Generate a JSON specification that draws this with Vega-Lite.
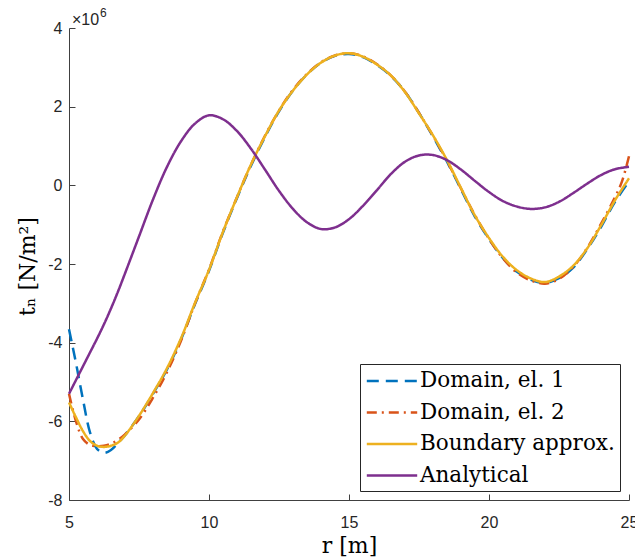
{
  "$schema": "https://vega.github.io/schema/vega-lite/v6.json",
  "width": 560,
  "height": 472,
  "autosize": "none",
  "padding": {"left": 69, "top": 28, "right": 6, "bottom": 58},
  "background": "white",
  "config": {
    "view": {"stroke": null},
    "axis": {
      "grid": false,
      "domainColor": "#404040",
      "tickColor": "#404040",
      "tickSize": -6,
      "labelFont": "Liberation Sans",
      "labelFontSize": 16,
      "labelColor": "#262626",
      "labelFlush": false,
      "labelOverlap": false,
      "titleFont": "DejaVu Serif",
      "titleFontWeight": "normal",
      "titleFontSize": 22,
      "titleColor": "#000000"
    }
  },
  "layer": [
    {
      "data": {
        "values": [
          {"series": "Domain, el. 1", "r": 5, "t": -3.66},
          {"series": "Domain, el. 1", "r": 5.1, "t": -4.0},
          {"series": "Domain, el. 1", "r": 5.25, "t": -4.52},
          {"series": "Domain, el. 1", "r": 5.5, "t": -5.45},
          {"series": "Domain, el. 1", "r": 5.75, "t": -6.28},
          {"series": "Domain, el. 1", "r": 6, "t": -6.7},
          {"series": "Domain, el. 1", "r": 6.25, "t": -6.8},
          {"series": "Domain, el. 1", "r": 6.5, "t": -6.73},
          {"series": "Domain, el. 1", "r": 6.75, "t": -6.55},
          {"series": "Domain, el. 1", "r": 7, "t": -6.35},
          {"series": "Domain, el. 1", "r": 7.5, "t": -5.87},
          {"series": "Domain, el. 1", "r": 8, "t": -5.3},
          {"series": "Domain, el. 1", "r": 8.5, "t": -4.68},
          {"series": "Domain, el. 1", "r": 9, "t": -3.92},
          {"series": "Domain, el. 1", "r": 9.5, "t": -3.02},
          {"series": "Domain, el. 1", "r": 10, "t": -2.17},
          {"series": "Domain, el. 1", "r": 10.5, "t": -1.2},
          {"series": "Domain, el. 1", "r": 11, "t": -0.32},
          {"series": "Domain, el. 1", "r": 11.5, "t": 0.5},
          {"series": "Domain, el. 1", "r": 12, "t": 1.23},
          {"series": "Domain, el. 1", "r": 12.5, "t": 1.88},
          {"series": "Domain, el. 1", "r": 13, "t": 2.41},
          {"series": "Domain, el. 1", "r": 13.5, "t": 2.82},
          {"series": "Domain, el. 1", "r": 14, "t": 3.12},
          {"series": "Domain, el. 1", "r": 14.5, "t": 3.29},
          {"series": "Domain, el. 1", "r": 15, "t": 3.34},
          {"series": "Domain, el. 1", "r": 15.5, "t": 3.26},
          {"series": "Domain, el. 1", "r": 16, "t": 3.06},
          {"series": "Domain, el. 1", "r": 16.5, "t": 2.78},
          {"series": "Domain, el. 1", "r": 17, "t": 2.38},
          {"series": "Domain, el. 1", "r": 17.5, "t": 1.84},
          {"series": "Domain, el. 1", "r": 18, "t": 1.24},
          {"series": "Domain, el. 1", "r": 18.5, "t": 0.6},
          {"series": "Domain, el. 1", "r": 19, "t": -0.1},
          {"series": "Domain, el. 1", "r": 19.5, "t": -0.8},
          {"series": "Domain, el. 1", "r": 20, "t": -1.37},
          {"series": "Domain, el. 1", "r": 20.5, "t": -1.85},
          {"series": "Domain, el. 1", "r": 21, "t": -2.2},
          {"series": "Domain, el. 1", "r": 21.5, "t": -2.4},
          {"series": "Domain, el. 1", "r": 22, "t": -2.48},
          {"series": "Domain, el. 1", "r": 22.5, "t": -2.36},
          {"series": "Domain, el. 1", "r": 23, "t": -2.1},
          {"series": "Domain, el. 1", "r": 23.5, "t": -1.63},
          {"series": "Domain, el. 1", "r": 24, "t": -1.06},
          {"series": "Domain, el. 1", "r": 24.5, "t": -0.42},
          {"series": "Domain, el. 1", "r": 25, "t": 0.1},

          {"series": "Domain, el. 2", "r": 5, "t": -5.3},
          {"series": "Domain, el. 2", "r": 5.25, "t": -6.0},
          {"series": "Domain, el. 2", "r": 5.5, "t": -6.45},
          {"series": "Domain, el. 2", "r": 5.75, "t": -6.6},
          {"series": "Domain, el. 2", "r": 6, "t": -6.63},
          {"series": "Domain, el. 2", "r": 6.25, "t": -6.62},
          {"series": "Domain, el. 2", "r": 6.5, "t": -6.57},
          {"series": "Domain, el. 2", "r": 6.75, "t": -6.47},
          {"series": "Domain, el. 2", "r": 7, "t": -6.33},
          {"series": "Domain, el. 2", "r": 7.5, "t": -5.95},
          {"series": "Domain, el. 2", "r": 8, "t": -5.4},
          {"series": "Domain, el. 2", "r": 8.5, "t": -4.75},
          {"series": "Domain, el. 2", "r": 9, "t": -3.95},
          {"series": "Domain, el. 2", "r": 9.5, "t": -3.0},
          {"series": "Domain, el. 2", "r": 10, "t": -2.14},
          {"series": "Domain, el. 2", "r": 10.5, "t": -1.17},
          {"series": "Domain, el. 2", "r": 11, "t": -0.3},
          {"series": "Domain, el. 2", "r": 11.5, "t": 0.53},
          {"series": "Domain, el. 2", "r": 12, "t": 1.26},
          {"series": "Domain, el. 2", "r": 12.5, "t": 1.9},
          {"series": "Domain, el. 2", "r": 13, "t": 2.43},
          {"series": "Domain, el. 2", "r": 13.5, "t": 2.83},
          {"series": "Domain, el. 2", "r": 14, "t": 3.13},
          {"series": "Domain, el. 2", "r": 14.5, "t": 3.3},
          {"series": "Domain, el. 2", "r": 15, "t": 3.36},
          {"series": "Domain, el. 2", "r": 15.5, "t": 3.28},
          {"series": "Domain, el. 2", "r": 16, "t": 3.08},
          {"series": "Domain, el. 2", "r": 16.5, "t": 2.79},
          {"series": "Domain, el. 2", "r": 17, "t": 2.38},
          {"series": "Domain, el. 2", "r": 17.5, "t": 1.84},
          {"series": "Domain, el. 2", "r": 18, "t": 1.26},
          {"series": "Domain, el. 2", "r": 18.5, "t": 0.62},
          {"series": "Domain, el. 2", "r": 19, "t": -0.08},
          {"series": "Domain, el. 2", "r": 19.5, "t": -0.76},
          {"series": "Domain, el. 2", "r": 20, "t": -1.36},
          {"series": "Domain, el. 2", "r": 20.5, "t": -1.86},
          {"series": "Domain, el. 2", "r": 21, "t": -2.22},
          {"series": "Domain, el. 2", "r": 21.5, "t": -2.42},
          {"series": "Domain, el. 2", "r": 22, "t": -2.5},
          {"series": "Domain, el. 2", "r": 22.5, "t": -2.38},
          {"series": "Domain, el. 2", "r": 23, "t": -2.08},
          {"series": "Domain, el. 2", "r": 23.5, "t": -1.6},
          {"series": "Domain, el. 2", "r": 24, "t": -0.98},
          {"series": "Domain, el. 2", "r": 24.5, "t": -0.3},
          {"series": "Domain, el. 2", "r": 24.75, "t": 0.1},
          {"series": "Domain, el. 2", "r": 25, "t": 0.74},

          {"series": "Boundary approx.", "r": 5, "t": -5.52},
          {"series": "Boundary approx.", "r": 5.25, "t": -5.9},
          {"series": "Boundary approx.", "r": 5.5, "t": -6.25},
          {"series": "Boundary approx.", "r": 5.75, "t": -6.5},
          {"series": "Boundary approx.", "r": 6, "t": -6.62},
          {"series": "Boundary approx.", "r": 6.25, "t": -6.65},
          {"series": "Boundary approx.", "r": 6.5, "t": -6.62},
          {"series": "Boundary approx.", "r": 6.75, "t": -6.54},
          {"series": "Boundary approx.", "r": 7, "t": -6.36},
          {"series": "Boundary approx.", "r": 7.5, "t": -5.86},
          {"series": "Boundary approx.", "r": 8, "t": -5.28},
          {"series": "Boundary approx.", "r": 8.5, "t": -4.65},
          {"series": "Boundary approx.", "r": 9, "t": -3.89},
          {"series": "Boundary approx.", "r": 9.5, "t": -2.99},
          {"series": "Boundary approx.", "r": 10, "t": -2.15},
          {"series": "Boundary approx.", "r": 10.5, "t": -1.18},
          {"series": "Boundary approx.", "r": 11, "t": -0.3},
          {"series": "Boundary approx.", "r": 11.5, "t": 0.53},
          {"series": "Boundary approx.", "r": 12, "t": 1.25},
          {"series": "Boundary approx.", "r": 12.5, "t": 1.9},
          {"series": "Boundary approx.", "r": 13, "t": 2.41},
          {"series": "Boundary approx.", "r": 13.5, "t": 2.82},
          {"series": "Boundary approx.", "r": 14, "t": 3.12},
          {"series": "Boundary approx.", "r": 14.5, "t": 3.3},
          {"series": "Boundary approx.", "r": 15, "t": 3.36},
          {"series": "Boundary approx.", "r": 15.5, "t": 3.27},
          {"series": "Boundary approx.", "r": 16, "t": 3.07},
          {"series": "Boundary approx.", "r": 16.5, "t": 2.79},
          {"series": "Boundary approx.", "r": 17, "t": 2.37},
          {"series": "Boundary approx.", "r": 17.5, "t": 1.83},
          {"series": "Boundary approx.", "r": 18, "t": 1.27},
          {"series": "Boundary approx.", "r": 18.5, "t": 0.64},
          {"series": "Boundary approx.", "r": 19, "t": -0.07},
          {"series": "Boundary approx.", "r": 19.5, "t": -0.77},
          {"series": "Boundary approx.", "r": 20, "t": -1.34},
          {"series": "Boundary approx.", "r": 20.5, "t": -1.82},
          {"series": "Boundary approx.", "r": 21, "t": -2.16},
          {"series": "Boundary approx.", "r": 21.5, "t": -2.37},
          {"series": "Boundary approx.", "r": 22, "t": -2.46},
          {"series": "Boundary approx.", "r": 22.5, "t": -2.32},
          {"series": "Boundary approx.", "r": 23, "t": -2.05},
          {"series": "Boundary approx.", "r": 23.5, "t": -1.61},
          {"series": "Boundary approx.", "r": 24, "t": -1.02},
          {"series": "Boundary approx.", "r": 24.5, "t": -0.38},
          {"series": "Boundary approx.", "r": 25, "t": 0.18},

          {"series": "Analytical", "r": 5, "t": -5.3},
          {"series": "Analytical", "r": 5.25, "t": -4.95},
          {"series": "Analytical", "r": 5.5, "t": -4.6},
          {"series": "Analytical", "r": 5.75, "t": -4.25},
          {"series": "Analytical", "r": 6, "t": -3.9},
          {"series": "Analytical", "r": 6.25, "t": -3.53},
          {"series": "Analytical", "r": 6.5, "t": -3.13},
          {"series": "Analytical", "r": 6.75, "t": -2.7},
          {"series": "Analytical", "r": 7, "t": -2.24},
          {"series": "Analytical", "r": 7.5, "t": -1.3},
          {"series": "Analytical", "r": 8, "t": -0.36},
          {"series": "Analytical", "r": 8.5, "t": 0.47},
          {"series": "Analytical", "r": 9, "t": 1.12},
          {"series": "Analytical", "r": 9.5, "t": 1.57},
          {"series": "Analytical", "r": 10, "t": 1.78},
          {"series": "Analytical", "r": 10.5, "t": 1.68},
          {"series": "Analytical", "r": 11, "t": 1.38},
          {"series": "Analytical", "r": 11.5, "t": 0.93},
          {"series": "Analytical", "r": 12, "t": 0.4},
          {"series": "Analytical", "r": 12.5, "t": -0.14},
          {"series": "Analytical", "r": 13, "t": -0.6},
          {"series": "Analytical", "r": 13.5, "t": -0.94},
          {"series": "Analytical", "r": 14, "t": -1.11},
          {"series": "Analytical", "r": 14.5, "t": -1.07},
          {"series": "Analytical", "r": 15, "t": -0.86},
          {"series": "Analytical", "r": 15.5, "t": -0.52},
          {"series": "Analytical", "r": 16, "t": -0.12},
          {"series": "Analytical", "r": 16.5, "t": 0.29},
          {"series": "Analytical", "r": 17, "t": 0.6},
          {"series": "Analytical", "r": 17.5, "t": 0.76},
          {"series": "Analytical", "r": 18, "t": 0.77},
          {"series": "Analytical", "r": 18.5, "t": 0.64},
          {"series": "Analytical", "r": 19, "t": 0.4},
          {"series": "Analytical", "r": 19.5, "t": 0.11},
          {"series": "Analytical", "r": 20, "t": -0.17},
          {"series": "Analytical", "r": 20.5, "t": -0.4},
          {"series": "Analytical", "r": 21, "t": -0.54},
          {"series": "Analytical", "r": 21.5, "t": -0.6},
          {"series": "Analytical", "r": 22, "t": -0.56},
          {"series": "Analytical", "r": 22.5, "t": -0.42},
          {"series": "Analytical", "r": 23, "t": -0.2},
          {"series": "Analytical", "r": 23.5, "t": 0.04},
          {"series": "Analytical", "r": 24, "t": 0.26},
          {"series": "Analytical", "r": 24.5, "t": 0.41},
          {"series": "Analytical", "r": 25, "t": 0.47}
        ]
      },
      "mark": {"type": "line", "interpolate": "catmull-rom", "clip": false},
      "encoding": {
        "x": {
          "field": "r", "type": "quantitative",
          "scale": {"domain": [5, 25], "nice": false, "zero": false},
          "axis": {
            "values": [5, 10, 15, 20, 25],
            "title": "r [m]",
            "labelPadding": 20,
            "titleX": 280,
            "titleY": 45,
            "titleAlign": "center",
            "titleBaseline": "middle"
          }
        },
        "y": {
          "field": "t", "type": "quantitative",
          "scale": {"domain": [-8, 4], "nice": false, "zero": false},
          "axis": {
            "values": [-8, -6, -4, -2, 0, 2, 4],
            "labelExpr": "'' + datum.value",
            "title": "tₙ [N/m²]",
            "labelPadding": 13,
            "titleX": -42,
            "titleY": 238,
            "titleAngle": -90,
            "titleAlign": "center",
            "titleBaseline": "middle"
          }
        },
        "color": {
          "field": "series", "type": "nominal",
          "scale": {
            "domain": ["Domain, el. 1", "Domain, el. 2", "Boundary approx.", "Analytical"],
            "range": ["#0072BD", "#D95319", "#EDB120", "#7E2F8E"]
          },
          "legend": {
            "orient": "none",
            "legendX": 291,
            "legendY": 336,
            "title": null,
            "labelFont": "DejaVu Serif",
            "labelFontSize": 21.5,
            "labelColor": "#000000",
            "labelLimit": 400,
            "labelOffset": 16,
            "symbolType": "M-2.4,0H2.4",
            "symbolSize": 441,
            "symbolOffset": 15,
            "padding": 5,
            "rowPadding": 8.5,
            "strokeColor": "#262626",
            "fillColor": "#ffffff",
            "cornerRadius": 0
          }
        },
        "strokeDash": {
          "field": "series", "type": "nominal",
          "scale": {
            "domain": ["Domain, el. 1", "Domain, el. 2", "Boundary approx.", "Analytical"],
            "range": [[12, 7], [10, 5, 2, 5], [1, 0], [1, 0]]
          }
        },
        "strokeWidth": {
          "field": "series", "type": "nominal",
          "scale": {
            "domain": ["Domain, el. 1", "Domain, el. 2", "Boundary approx.", "Analytical"],
            "range": [2.5, 2.5, 2.5, 3.3]
          }
        }
      }
    },
    {
      "data": {"values": [{"r": 5, "t": 4, "label": "×10"}]},
      "mark": {"type": "text", "align": "left", "baseline": "alphabetic", "dx": 3, "dy": -3, "font": "Liberation Sans", "fontSize": 16, "color": "#262626"},
      "encoding": {
        "x": {"field": "r", "type": "quantitative"},
        "y": {"field": "t", "type": "quantitative"},
        "text": {"field": "label"}
      }
    },
    {
      "data": {"values": [{"r": 5, "t": 4, "label": "6"}]},
      "mark": {"type": "text", "align": "left", "baseline": "alphabetic", "dx": 31, "dy": -11, "font": "Liberation Sans", "fontSize": 12, "color": "#262626"},
      "encoding": {
        "x": {"field": "r", "type": "quantitative"},
        "y": {"field": "t", "type": "quantitative"},
        "text": {"field": "label"}
      }
    }
  ]
}
